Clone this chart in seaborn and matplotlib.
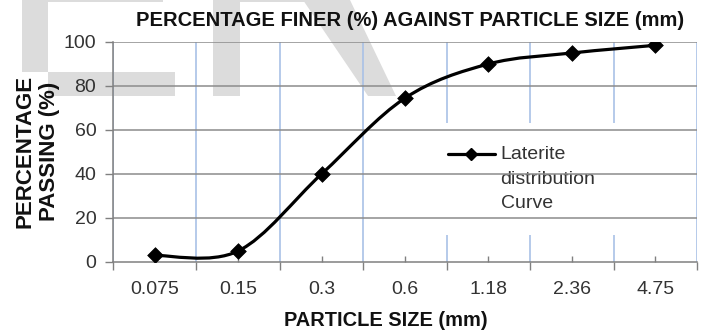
import numpy as np
import matplotlib
matplotlib.use("Agg")
import matplotlib.pyplot as plt
from matplotlib.path import Path
from matplotlib.patches import PathPatch, Polygon
from matplotlib.lines import Line2D
import seaborn as sns
import pandas as pd

# ---- data ----
particle_sizes = ["0.075", "0.15", "0.3", "0.6", "1.18", "2.36", "4.75"]
percent_passing = [3.0, 5.0, 40.0, 74.5, 90.0, 95.0, 98.5]
y_ticks = [0, 20, 40, 60, 80, 100]
series_label = "Laterite\ndistribution\nCurve"

sns.set_theme(style="white")
plt.rcParams['font.family'] = ['Liberation Sans', 'DejaVu Sans']

W, H = 707, 333
fig = plt.figure(figsize=(W / 100, H / 100), dpi=100)
fig.patch.set_facecolor("white")

# ---- watermark (decorative, figure pixel coords) ----
def px_poly(pts, **kw):
    p = Polygon([(x / W, 1 - y / H) for x, y in pts], closed=True,
                transform=fig.transFigure, **kw)
    fig.patches.append(p)

wm = dict(facecolor="#dcdcdc", edgecolor="none", zorder=-5)
px_poly([(22, 0), (48, 0), (48, 72), (22, 72)], **wm)
px_poly([(48, 72), (175, 72), (175, 96), (48, 96)], **wm)
px_poly([(48, 0), (163, 0), (163, 2), (48, 2)], **wm)
px_poly([(213, 0), (240, 0), (240, 96), (213, 96)], **wm)
px_poly([(240, 0), (320, 0), (320, 2), (240, 2)], **wm)
px_poly([(303, 0), (350, 0), (396, 96), (368, 96)], **wm)

ax = fig.add_axes([113 / W, 1 - 262 / H, (697 - 113) / W, (262 - 42) / H])
ax.set_facecolor("none")
ax.set_zorder(1)

df = pd.DataFrame({"pos": np.arange(len(particle_sizes)), "pct": percent_passing})

# smooth curve (Excel-like Catmull-Rom Bezier through the data points)
pts = df[["pos", "pct"]].to_numpy(dtype=float)
verts = [tuple(pts[0])]
codes = [Path.MOVETO]
n = len(pts)
for i in range(n - 1):
    p0 = pts[i - 1] if i > 0 else pts[i]
    p1 = pts[i]
    p2 = pts[i + 1]
    p3 = pts[i + 2] if i + 2 < n else pts[i + 1]
    c1 = p1 + (p2 - p0) / 6.0
    c2 = p2 - (p3 - p1) / 6.0
    verts += [tuple(c1), tuple(c2), tuple(p2)]
    codes += [Path.CURVE4] * 3
ax.add_patch(PathPatch(Path(verts, codes), facecolor="none",
                       edgecolor="black", lw=2.3, zorder=3,
                       capstyle="round", joinstyle="round"))

sns.scatterplot(data=df, x="pos", y="pct", marker="D", s=64, color="black",
                edgecolor="black", linewidth=0.5, zorder=4, ax=ax, legend=False)

ax.set_xlim(-0.5, len(particle_sizes) - 0.5)
ax.set_ylim(0, 100)
ax.set_xlabel("")
ax.set_ylabel("")

# x ticks: labels at category centres (minor), major ticks at boundaries
ax.set_xticks(np.arange(len(particle_sizes) + 1) - 0.5)
ax.set_xticklabels([])
ax.set_xticks(np.arange(len(particle_sizes)), particle_sizes, minor=True)
ax.tick_params(axis="x", which="major", direction="out", length=6, width=1,
               color="#808080", bottom=True)
ax.tick_params(axis="x", which="minor", direction="in", length=4, width=1,
               color="#808080", bottom=True, labelsize=14, labelcolor="#333333",
               pad=14)
ax.set_yticks(y_ticks)
ax.tick_params(axis="y", which="major", direction="out", length=6, width=1,
               color="#808080", left=True, labelsize=14, labelcolor="#333333",
               pad=6)

# grid
ax.set_axisbelow(True)
ax.xaxis.grid(True, which="major", color="#a9c1e6", lw=1.2)
for v in y_ticks[1:]:
    ax.axhline(v, color="#8c8c8c", lw=1.1, zorder=2)

for s in ["top", "right"]:
    ax.spines[s].set_visible(False)
for s in ["left", "bottom"]:
    ax.spines[s].set_color("#808080")
    ax.spines[s].set_linewidth(1.1)
    ax.spines[s].set_zorder(2.5)

# legend
h = Line2D([], [], color="black", lw=2.3, marker="D", markersize=6.5)
leg = ax.legend([h], [series_label], loc="upper left",
                bbox_to_anchor=(415 / W, 1 - 113 / H),
                bbox_transform=fig.transFigure, frameon=True,
                fontsize=14, handlelength=2.4, handleheight=1.2,
                handletextpad=0.3, borderpad=1.2, labelspacing=0.2)
leg.get_frame().set_facecolor("white")
leg.get_frame().set_edgecolor("none")
leg.get_frame().set_alpha(1)
leg.get_frame().set_boxstyle("square", pad=0)
leg.set_zorder(1.5)
for t in leg.get_texts():
    t.set_color("#333333")
    t.set_linespacing(1.58)
for col in leg._legend_handle_box.get_children():
    for item in col.get_children():
        item.align = "top"

fig.text(410 / W, 1 - 20 / H, "PERCENTAGE FINER (%) AGAINST PARTICLE SIZE (mm)",
         ha="center", va="center", fontsize=14.5, fontweight="bold", color="#111111")
fig.text(386 / W, 1 - 321 / H, "PARTICLE SIZE (mm)", ha="center", va="center",
         fontsize=14.4, fontweight="bold", color="#111111")
fig.text(37 / W, 1 - 151 / H, "PERCENTAGE\nPASSING (%)", ha="center", va="center",
         rotation=90, fontsize=16, fontweight="bold", color="#111111",
         linespacing=1.2)

fig.savefig("out.png", dpi=100, facecolor="white")
